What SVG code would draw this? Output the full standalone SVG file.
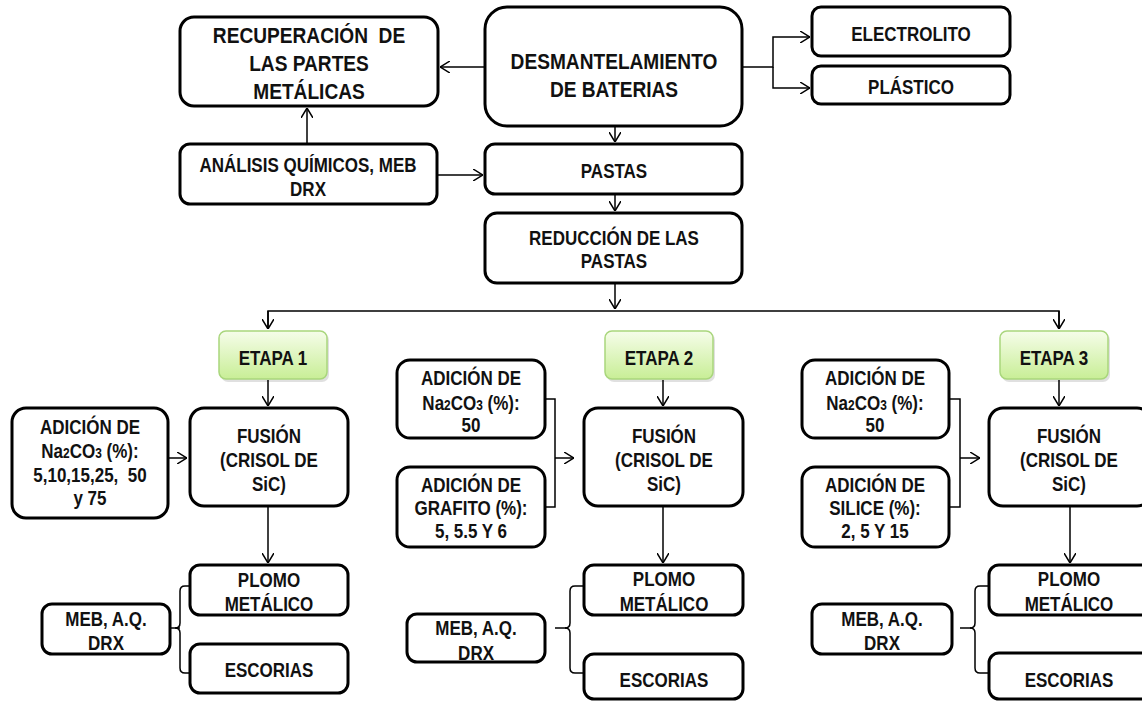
<svg xmlns="http://www.w3.org/2000/svg" width="1142" height="702" viewBox="0 0 1142 702">
<defs>
<linearGradient id="gEt" x1="0" y1="0" x2="0" y2="1">
<stop offset="0" stop-color="#f6fdea"/>
<stop offset="1" stop-color="#c8ee96"/>
</linearGradient>
<marker id="ah" viewBox="0 0 10 12" refX="10" refY="6" markerWidth="10" markerHeight="12" markerUnits="userSpaceOnUse" orient="auto">
<path d="M0,0 L10,6 L0,12" fill="none" stroke="#000" stroke-width="1.5"/>
</marker>
</defs>
<style>
.b{fill:#fff;stroke:#000;stroke-width:3}
.e{fill:url(#gEt);stroke:#a9d67c;stroke-width:1.5}
.sh{fill:#000;opacity:0.12}
text{font-family:"Liberation Sans",Arial,sans-serif;font-weight:bold;font-size:20px;text-anchor:middle;fill:#111;transform-box:fill-box;transform-origin:center;transform:scaleX(0.85)}
.L{font-size:22.5px}
.s{font-size:14px}
.c line,.c path{stroke:#000;stroke-width:1.5;fill:none}
</style>
<rect width="1142" height="702" fill="#fff"/>

<g class="c" id="connectors">
<line x1="485" y1="67" x2="440" y2="67" marker-end="url(#ah)"/>
<path d="M742,67 H773 V37 H810" marker-end="url(#ah)"/>
<path d="M773,67 V88 H810" marker-end="url(#ah)"/>
<line x1="307" y1="144" x2="307" y2="108" marker-end="url(#ah)"/>
<line x1="437" y1="175" x2="483" y2="175" marker-end="url(#ah)"/>
<line x1="615" y1="126" x2="615" y2="142" marker-end="url(#ah)"/>
<line x1="615" y1="194" x2="615" y2="211" marker-end="url(#ah)"/>
<line x1="615" y1="283" x2="615" y2="309" marker-end="url(#ah)"/>
<path d="M268,329 V311 H1059 V329" />
<line x1="268" y1="311" x2="268" y2="329" marker-end="url(#ah)"/>
<line x1="1059" y1="311" x2="1059" y2="329" marker-end="url(#ah)"/>
<line x1="268" y1="380" x2="268" y2="406" marker-end="url(#ah)"/>
<line x1="663" y1="380" x2="663" y2="406" marker-end="url(#ah)"/>
<line x1="1059" y1="380" x2="1059" y2="406" marker-end="url(#ah)"/>
<line x1="168" y1="458" x2="187" y2="458" marker-end="url(#ah)"/>
<path d="M545,399 H555 V507 H545"/>
<line x1="555" y1="458" x2="574" y2="458" marker-end="url(#ah)"/>
<path d="M949,399 H960 V507 H949"/>
<line x1="960" y1="458" x2="980" y2="458" marker-end="url(#ah)"/>
<line x1="268" y1="506" x2="268" y2="563" marker-end="url(#ah)"/>
<line x1="663" y1="506" x2="663" y2="563" marker-end="url(#ah)"/>
<line x1="1070" y1="506" x2="1070" y2="563" marker-end="url(#ah)"/>
<path d="M170,628 H180"/>
<path d="M190,586 H185 Q180,586 180,591 V623 Q180,628 175,628 Q180,628 180,633 V668 Q180,673 185,673 H190"/>
<path d="M555,628 H566"/>
<path d="M584,586 H575 Q570,586 570,591 V623 Q570,628 565,628 Q570,628 570,633 V668 Q570,673 575,673 H584"/>
<path d="M960,628 H971"/>
<path d="M989,586 H980 Q975,586 975,591 V623 Q975,628 970,628 Q975,628 975,633 V668 Q975,673 980,673 H989"/>
</g>

<g id="recuperacion">
<rect class="b" x="180" y="17" width="258" height="89" rx="14"/>
<text class="L" x="309" y="43" xml:space="preserve">RECUPERACIÓN  DE</text>
<text class="L" x="309" y="71">LAS PARTES</text>
<text class="L" x="309" y="99">METÁLICAS</text>
</g>
<g id="desmantelamiento">
<rect class="b" x="485" y="7" width="257" height="119" rx="22"/>
<text class="L" x="614" y="69">DESMANTELAMIENTO</text>
<text class="L" x="614" y="97">DE BATERIAS</text>
</g>
<g id="electrolito">
<rect class="b" x="812" y="7" width="198" height="49" rx="9"/>
<text x="911" y="41">ELECTROLITO</text>
</g>
<g id="plastico">
<rect class="b" x="812" y="66" width="198" height="38" rx="9"/>
<text x="911" y="94">PLÁSTICO</text>
</g>
<g id="analisis">
<rect class="b" x="180" y="144" width="257" height="60" rx="10"/>
<text x="308" y="172">ANÁLISIS QUÍMICOS, MEB</text>
<text x="308" y="196">DRX</text>
</g>
<g id="pastas">
<rect class="b" x="485" y="144" width="257" height="50" rx="10"/>
<text x="614" y="178">PASTAS</text>
</g>
<g id="reduccion">
<rect class="b" x="485" y="213" width="257" height="70" rx="12"/>
<text x="614" y="245">REDUCCIÓN DE LAS</text>
<text x="614" y="268">PASTAS</text>
</g>

<g id="etapa1">
<rect class="sh" x="221" y="333" width="108" height="49" rx="7"/>
<rect class="e" x="219" y="331" width="108" height="48" rx="7"/>
<text x="273" y="365">ETAPA 1</text>
</g>
<g id="etapa2">
<rect class="sh" x="607" y="333" width="108" height="49" rx="7"/>
<rect class="e" x="605" y="331" width="108" height="48" rx="7"/>
<text x="659" y="365">ETAPA 2</text>
</g>
<g id="etapa3">
<rect class="sh" x="1002" y="333" width="108" height="49" rx="7"/>
<rect class="e" x="1000" y="331" width="108" height="48" rx="7"/>
<text x="1054" y="365">ETAPA 3</text>
</g>

<g id="adicion1">
<rect class="b" x="12" y="408" width="156" height="110" rx="14"/>
<text x="90" y="434">ADICIÓN DE</text>
<text x="90" y="458">Na<tspan class="s">2</tspan>CO<tspan class="s">3</tspan> (%):</text>
<text x="90" y="482" xml:space="preserve">5,10,15,25,  50</text>
<text x="90" y="505">y 75</text>
</g>
<g id="fusion1">
<rect class="b" x="190" y="408" width="158" height="98" rx="14"/>
<text x="269" y="443">FUSIÓN</text>
<text x="269" y="467">(CRISOL DE</text>
<text x="269" y="491">SiC)</text>
</g>
<g id="plomo1">
<rect class="b" x="190" y="565" width="158" height="50" rx="10"/>
<text x="269" y="587">PLOMO</text>
<text x="269" y="611">METÁLICO</text>
</g>
<g id="escorias1">
<rect class="b" x="190" y="644" width="158" height="49" rx="10"/>
<text x="269" y="677">ESCORIAS</text>
</g>
<g id="meb1">
<rect class="b" x="42" y="604" width="128" height="50" rx="10"/>
<text x="106" y="626">MEB, A.Q.</text>
<text x="106" y="650">DRX</text>
</g>

<g id="adicion2a">
<rect class="b" x="397" y="360" width="148" height="78" rx="13"/>
<text x="471" y="385">ADICIÓN DE</text>
<text x="471" y="410">Na<tspan class="s">2</tspan>CO<tspan class="s">3</tspan> (%):</text>
<text x="471" y="432">50</text>
</g>
<g id="adicion2b">
<rect class="b" x="397" y="467" width="148" height="80" rx="13"/>
<text x="471" y="492">ADICIÓN DE</text>
<text x="471" y="515">GRAFITO (%):</text>
<text x="471" y="538">5, 5.5 Y 6</text>
</g>
<g id="fusion2">
<rect class="b" x="584" y="408" width="159" height="98" rx="14"/>
<text x="664" y="443">FUSIÓN</text>
<text x="664" y="467">(CRISOL DE</text>
<text x="664" y="491">SiC)</text>
</g>
<g id="plomo2">
<rect class="b" x="584" y="565" width="159" height="50" rx="10"/>
<text x="664" y="586">PLOMO</text>
<text x="664" y="611">METÁLICO</text>
</g>
<g id="escorias2">
<rect class="b" x="584" y="654" width="159" height="45" rx="10"/>
<text x="664" y="687">ESCORIAS</text>
</g>
<g id="meb2">
<rect class="b" x="407" y="614" width="138" height="48" rx="10"/>
<text x="476" y="635">MEB, A.Q.</text>
<text x="476" y="660">DRX</text>
</g>

<g id="adicion3a">
<rect class="b" x="802" y="360" width="147" height="78" rx="13"/>
<text x="875" y="385">ADICIÓN DE</text>
<text x="875" y="410">Na<tspan class="s">2</tspan>CO<tspan class="s">3</tspan> (%):</text>
<text x="875" y="432">50</text>
</g>
<g id="adicion3b">
<rect class="b" x="802" y="467" width="147" height="80" rx="13"/>
<text x="875" y="492">ADICIÓN DE</text>
<text x="875" y="515">SILICE (%):</text>
<text x="875" y="538">2, 5 Y 15</text>
</g>
<g id="fusion3">
<rect class="b" x="989" y="408" width="162" height="98" rx="14"/>
<text x="1069" y="443">FUSIÓN</text>
<text x="1069" y="467">(CRISOL DE</text>
<text x="1069" y="491">SiC)</text>
</g>
<g id="plomo3">
<rect class="b" x="989" y="565" width="162" height="50" rx="10"/>
<text x="1069" y="586">PLOMO</text>
<text x="1069" y="611">METÁLICO</text>
</g>
<g id="escorias3">
<rect class="b" x="989" y="653" width="162" height="46" rx="10"/>
<text x="1069" y="687">ESCORIAS</text>
</g>
<g id="meb3">
<rect class="b" x="812" y="604" width="140" height="50" rx="10"/>
<text x="882" y="626">MEB, A.Q.</text>
<text x="882" y="650">DRX</text>
</g>
</svg>
